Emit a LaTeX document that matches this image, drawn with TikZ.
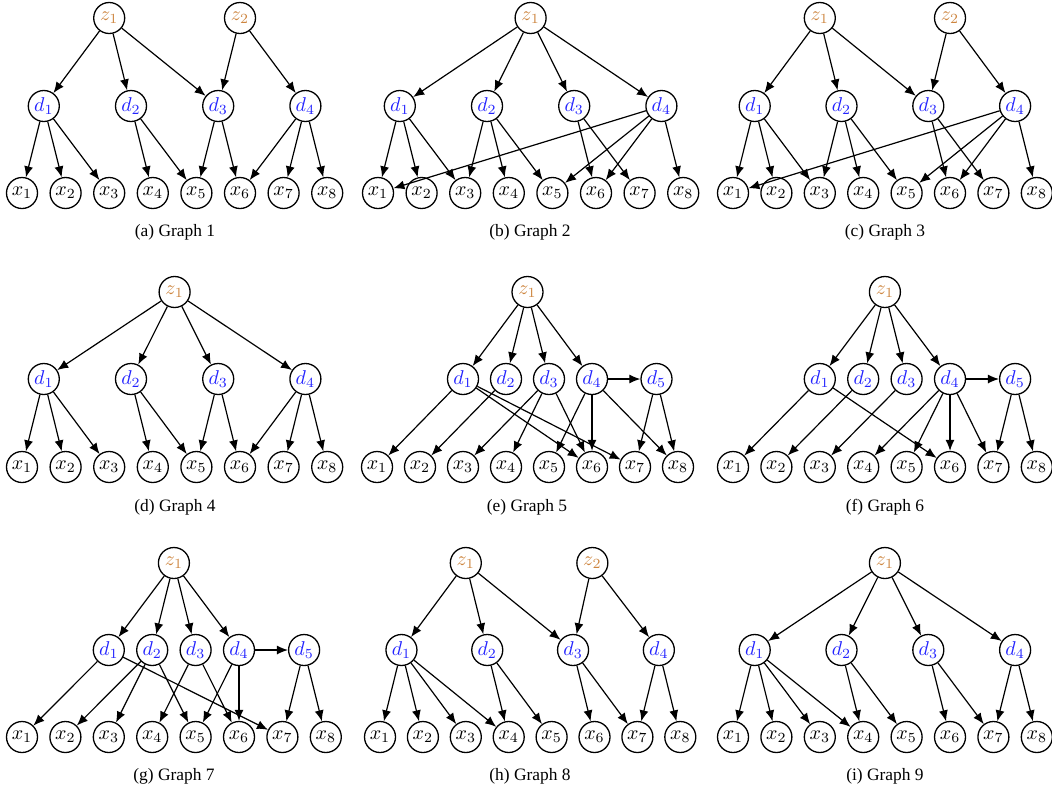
\documentclass[tikz,border=0pt]{standalone}
\usepackage{fontspec}
\setmainfont{Liberation Serif}
\usepackage{amsmath,amssymb}
\usetikzlibrary{arrows.meta}

\definecolor{zorange}{RGB}{205,133,63}
\definecolor{dblue}{RGB}{35,35,255}

\tikzset{
	var/.style={circle, draw=black, line width=0.65pt, minimum size=15.5pt, inner sep=0pt},
	zvar/.style={var, text=zorange},
	dvar/.style={var, text=dblue},
	xvar/.style={var},
	arr/.style={-{Latex[length=5.5pt,width=4.5pt]}, line width=0.6pt},
	subcap/.style={font=\fontsize{8.7pt}{10pt}\selectfont}
}

\begin{document}
\begin{tikzpicture}[x=0.5pt, y=-0.5pt]
		\useasboundingbox (0,0) rectangle (1052,788);
		% row heights
		\def\za{18} \def\da{106} \def\xa{193} \def\ca{232}
		\def\zb{292} \def\db{379} \def\xb{467} \def\cb{507}
		\def\zc{563} \def\dc{650} \def\xc{737} \def\cc{776}

		% ---- graph 1 ----
		\def\xo{22} \def\xs{43.6}
		\node[zvar] (az1) at (\xo+2*\xs, \za) {$z_1$};
		\node[zvar] (az2) at (\xo+5*\xs, \za) {$z_2$};
		\node[dvar] (ad1) at (\xo+0.5*\xs, \da) {$d_1$};
		\node[dvar] (ad2) at (\xo+2.5*\xs, \da) {$d_2$};
		\node[dvar] (ad3) at (\xo+4.5*\xs, \da) {$d_3$};
		\node[dvar] (ad4) at (\xo+6.5*\xs, \da) {$d_4$};
		\foreach \i in {1,...,8}
			\node[xvar] (ax\i) at (\xo+\i*\xs-\xs, \xa) {$x_{\i}$};
		\node[subcap] (acap) at (175, \ca) {(a) Graph 1};
		\draw[arr] (az1) -- (ad1);
		\draw[arr] (az1) -- (ad2);
		\draw[arr] (az1) -- (ad3);
		\draw[arr] (az2) -- (ad3);
		\draw[arr] (az2) -- (ad4);
		\draw[arr] (ad1) -- (ax1);
		\draw[arr] (ad1) -- (ax2);
		\draw[arr] (ad1) -- (ax3);
		\draw[arr] (ad2) -- (ax4);
		\draw[arr] (ad2) -- (ax5);
		\draw[arr] (ad3) -- (ax5);
		\draw[arr] (ad3) -- (ax6);
		\draw[arr] (ad4) -- (ax6);
		\draw[arr] (ad4) -- (ax7);
		\draw[arr] (ad4) -- (ax8);

		% ---- graph 2 ----
		\def\xo{378} \def\xs{43.6}
		\node[zvar] (bz1) at (\xo+3.5*\xs, \za) {$z_1$};
		\node[dvar] (bd1) at (\xo+0.5*\xs, \da) {$d_1$};
		\node[dvar] (bd2) at (\xo+2.5*\xs, \da) {$d_2$};
		\node[dvar] (bd3) at (\xo+4.5*\xs, \da) {$d_3$};
		\node[dvar] (bd4) at (\xo+6.5*\xs, \da) {$d_4$};
		\foreach \i in {1,...,8}
			\node[xvar] (bx\i) at (\xo+\i*\xs-\xs, \xa) {$x_{\i}$};
		\node[subcap] (bcap) at (530, \ca) {(b) Graph 2};
		\draw[arr] (bz1) -- (bd1);
		\draw[arr] (bz1) -- (bd2);
		\draw[arr] (bz1) -- (bd3);
		\draw[arr] (bz1) -- (bd4);
		\draw[arr] (bd1) -- (bx1);
		\draw[arr] (bd1) -- (bx2);
		\draw[arr] (bd1) -- (bx3);
		\draw[arr] (bd2) -- (bx3);
		\draw[arr] (bd2) -- (bx4);
		\draw[arr] (bd2) -- (bx5);
		\draw[arr] (bd3) -- (bx6);
		\draw[arr] (bd3) -- (bx7);
		\draw[arr] (bd4) -- (bx1);
		\draw[arr] (bd4) -- (bx5);
		\draw[arr] (bd4) -- (bx6);
		\draw[arr] (bd4) -- (bx8);

		% ---- graph 3 ----
		\def\xo{733} \def\xs{43.4}
		\node[zvar] (cz1) at (\xo+2*\xs, \za) {$z_1$};
		\node[zvar] (cz2) at (\xo+5*\xs, \za) {$z_2$};
		\node[dvar] (cd1) at (\xo+0.5*\xs, \da) {$d_1$};
		\node[dvar] (cd2) at (\xo+2.5*\xs, \da) {$d_2$};
		\node[dvar] (cd3) at (\xo+4.5*\xs, \da) {$d_3$};
		\node[dvar] (cd4) at (\xo+6.5*\xs, \da) {$d_4$};
		\foreach \i in {1,...,8}
			\node[xvar] (cx\i) at (\xo+\i*\xs-\xs, \xa) {$x_{\i}$};
		\node[subcap] (ccap) at (885, \ca) {(c) Graph 3};
		\draw[arr] (cz1) -- (cd1);
		\draw[arr] (cz1) -- (cd2);
		\draw[arr] (cz1) -- (cd3);
		\draw[arr] (cz2) -- (cd3);
		\draw[arr] (cz2) -- (cd4);
		\draw[arr] (cd1) -- (cx1);
		\draw[arr] (cd1) -- (cx2);
		\draw[arr] (cd1) -- (cx3);
		\draw[arr] (cd2) -- (cx3);
		\draw[arr] (cd2) -- (cx4);
		\draw[arr] (cd2) -- (cx5);
		\draw[arr] (cd3) -- (cx6);
		\draw[arr] (cd3) -- (cx7);
		\draw[arr] (cd4) -- (cx1);
		\draw[arr] (cd4) -- (cx5);
		\draw[arr] (cd4) -- (cx6);
		\draw[arr] (cd4) -- (cx8);

		% ---- graph 4 ----
		\def\xo{22} \def\xs{43.6}
		\node[zvar] (dz1) at (\xo+3.5*\xs, \zb) {$z_1$};
		\node[dvar] (dd1) at (\xo+0.5*\xs, \db) {$d_1$};
		\node[dvar] (dd2) at (\xo+2.5*\xs, \db) {$d_2$};
		\node[dvar] (dd3) at (\xo+4.5*\xs, \db) {$d_3$};
		\node[dvar] (dd4) at (\xo+6.5*\xs, \db) {$d_4$};
		\foreach \i in {1,...,8}
			\node[xvar] (dx\i) at (\xo+\i*\xs-\xs, \xb) {$x_{\i}$};
		\node[subcap] (dcap) at (175, \cb) {(d) Graph 4};
		\draw[arr] (dz1) -- (dd1);
		\draw[arr] (dz1) -- (dd2);
		\draw[arr] (dz1) -- (dd3);
		\draw[arr] (dz1) -- (dd4);
		\draw[arr] (dd1) -- (dx1);
		\draw[arr] (dd1) -- (dx2);
		\draw[arr] (dd1) -- (dx3);
		\draw[arr] (dd2) -- (dx4);
		\draw[arr] (dd2) -- (dx5);
		\draw[arr] (dd3) -- (dx5);
		\draw[arr] (dd3) -- (dx6);
		\draw[arr] (dd4) -- (dx6);
		\draw[arr] (dd4) -- (dx7);
		\draw[arr] (dd4) -- (dx8);

		% ---- graph 5 ----
		\def\xo{377} \def\xs{43}
		\node[zvar] (ez1) at (\xo+3.5*\xs, \zb) {$z_1$};
		\node[dvar] (ed1) at (\xo+2*\xs, \db) {$d_1$};
		\node[dvar] (ed2) at (\xo+3*\xs, \db) {$d_2$};
		\node[dvar] (ed3) at (\xo+4*\xs, \db) {$d_3$};
		\node[dvar] (ed4) at (\xo+5*\xs, \db) {$d_4$};
		\node[dvar] (ed5) at (\xo+6.5*\xs, \db) {$d_5$};
		\foreach \i in {1,...,8}
			\node[xvar] (ex\i) at (\xo+\i*\xs-\xs, \xb) {$x_{\i}$};
		\node[subcap] (ecap) at (527, \cb) {(e) Graph 5};
		\draw[arr] (ez1) -- (ed1);
		\draw[arr] (ez1) -- (ed2);
		\draw[arr] (ez1) -- (ed3);
		\draw[arr] (ez1) -- (ed4);
		\draw[arr] (ed4) -- (ed5);
		\draw[arr] (ed1) -- (ex1);
		\draw[arr] (ed1) -- (ex6);
		\draw[arr] (ed1) -- (ex7);
		\draw[arr] (ed2) -- (ex2);
		\draw[arr] (ed3) -- (ex3);
		\draw[arr] (ed3) -- (ex4);
		\draw[arr] (ed3) -- (ex6);
		\draw[arr] (ed4) -- (ex5);
		\draw[arr] (ed4) -- (ex6);
		\draw[arr] (ed4) -- (ex8);
		\draw[arr] (ed5) -- (ex7);
		\draw[arr] (ed5) -- (ex8);

		% ---- graph 6 ----
		\def\xo{733} \def\xs{43.4}
		\node[zvar] (fz1) at (\xo+3.5*\xs, \zb) {$z_1$};
		\node[dvar] (fd1) at (\xo+2*\xs, \db) {$d_1$};
		\node[dvar] (fd2) at (\xo+3*\xs, \db) {$d_2$};
		\node[dvar] (fd3) at (\xo+4*\xs, \db) {$d_3$};
		\node[dvar] (fd4) at (\xo+5*\xs, \db) {$d_4$};
		\node[dvar] (fd5) at (\xo+6.5*\xs, \db) {$d_5$};
		\foreach \i in {1,...,8}
			\node[xvar] (fx\i) at (\xo+\i*\xs-\xs, \xb) {$x_{\i}$};
		\node[subcap] (fcap) at (885, \cb) {(f) Graph 6};
		\draw[arr] (fz1) -- (fd1);
		\draw[arr] (fz1) -- (fd2);
		\draw[arr] (fz1) -- (fd3);
		\draw[arr] (fz1) -- (fd4);
		\draw[arr] (fd4) -- (fd5);
		\draw[arr] (fd1) -- (fx1);
		\draw[arr] (fd1) -- (fx6);
		\draw[arr] (fd2) -- (fx2);
		\draw[arr] (fd3) -- (fx3);
		\draw[arr] (fd4) -- (fx4);
		\draw[arr] (fd4) -- (fx5);
		\draw[arr] (fd4) -- (fx6);
		\draw[arr] (fd4) -- (fx7);
		\draw[arr] (fd5) -- (fx7);
		\draw[arr] (fd5) -- (fx8);

		% ---- graph 7 ----
		\def\xo{22} \def\xs{43.4}
		\node[zvar] (gz1) at (\xo+3.5*\xs, \zc) {$z_1$};
		\node[dvar] (gd1) at (\xo+2*\xs, \dc) {$d_1$};
		\node[dvar] (gd2) at (\xo+3*\xs, \dc) {$d_2$};
		\node[dvar] (gd3) at (\xo+4*\xs, \dc) {$d_3$};
		\node[dvar] (gd4) at (\xo+5*\xs, \dc) {$d_4$};
		\node[dvar] (gd5) at (\xo+6.5*\xs, \dc) {$d_5$};
		\foreach \i in {1,...,8}
			\node[xvar] (gx\i) at (\xo+\i*\xs-\xs, \xc) {$x_{\i}$};
		\node[subcap] (gcap) at (174, \cc) {(g) Graph 7};
		\draw[arr] (gz1) -- (gd1);
		\draw[arr] (gz1) -- (gd2);
		\draw[arr] (gz1) -- (gd3);
		\draw[arr] (gz1) -- (gd4);
		\draw[arr] (gd4) -- (gd5);
		\draw[arr] (gd1) -- (gx1);
		\draw[arr] (gd1) -- (gx7);
		\draw[arr] (gd2) -- (gx2);
		\draw[arr] (gd2) -- (gx3);
		\draw[arr] (gd2) -- (gx5);
		\draw[arr] (gd3) -- (gx4);
		\draw[arr] (gd3) -- (gx6);
		\draw[arr] (gd4) -- (gx5);
		\draw[arr] (gd4) -- (gx6);
		\draw[arr] (gd5) -- (gx7);
		\draw[arr] (gd5) -- (gx8);

		% ---- graph 8 ----
		\def\xo{380} \def\xs{42.9}
		\node[zvar] (hz1) at (\xo+2*\xs, \zc) {$z_1$};
		\node[zvar] (hz2) at (\xo+4.95*\xs, \zc) {$z_2$};
		\node[dvar] (hd1) at (\xo+0.5*\xs, \dc) {$d_1$};
		\node[dvar] (hd2) at (\xo+2.5*\xs, \dc) {$d_2$};
		\node[dvar] (hd3) at (\xo+4.5*\xs, \dc) {$d_3$};
		\node[dvar] (hd4) at (\xo+6.5*\xs, \dc) {$d_4$};
		\foreach \i in {1,...,8}
			\node[xvar] (hx\i) at (\xo+\i*\xs-\xs, \xc) {$x_{\i}$};
		\node[subcap] (hcap) at (530, \cc) {(h) Graph 8};
		\draw[arr] (hz1) -- (hd1);
		\draw[arr] (hz1) -- (hd2);
		\draw[arr] (hz1) -- (hd3);
		\draw[arr] (hz2) -- (hd3);
		\draw[arr] (hz2) -- (hd4);
		\draw[arr] (hd1) -- (hx1);
		\draw[arr] (hd1) -- (hx2);
		\draw[arr] (hd1) -- (hx3);
		\draw[arr] (hd1) -- (hx4);
		\draw[arr] (hd2) -- (hx4);
		\draw[arr] (hd2) -- (hx5);
		\draw[arr] (hd3) -- (hx6);
		\draw[arr] (hd3) -- (hx7);
		\draw[arr] (hd4) -- (hx7);
		\draw[arr] (hd4) -- (hx8);

		% ---- graph 9 ----
		\def\xo{733} \def\xs{43.4}
		\node[zvar] (iz1) at (\xo+3.5*\xs, \zc) {$z_1$};
		\node[dvar] (id1) at (\xo+0.5*\xs, \dc) {$d_1$};
		\node[dvar] (id2) at (\xo+2.5*\xs, \dc) {$d_2$};
		\node[dvar] (id3) at (\xo+4.5*\xs, \dc) {$d_3$};
		\node[dvar] (id4) at (\xo+6.5*\xs, \dc) {$d_4$};
		\foreach \i in {1,...,8}
			\node[xvar] (ix\i) at (\xo+\i*\xs-\xs, \xc) {$x_{\i}$};
		\node[subcap] (icap) at (885, \cc) {(i) Graph 9};
		\draw[arr] (iz1) -- (id1);
		\draw[arr] (iz1) -- (id2);
		\draw[arr] (iz1) -- (id3);
		\draw[arr] (iz1) -- (id4);
		\draw[arr] (id1) -- (ix1);
		\draw[arr] (id1) -- (ix2);
		\draw[arr] (id1) -- (ix3);
		\draw[arr] (id1) -- (ix4);
		\draw[arr] (id2) -- (ix4);
		\draw[arr] (id2) -- (ix5);
		\draw[arr] (id3) -- (ix6);
		\draw[arr] (id3) -- (ix7);
		\draw[arr] (id4) -- (ix7);
		\draw[arr] (id4) -- (ix8);
	\end{tikzpicture}
\end{document}
